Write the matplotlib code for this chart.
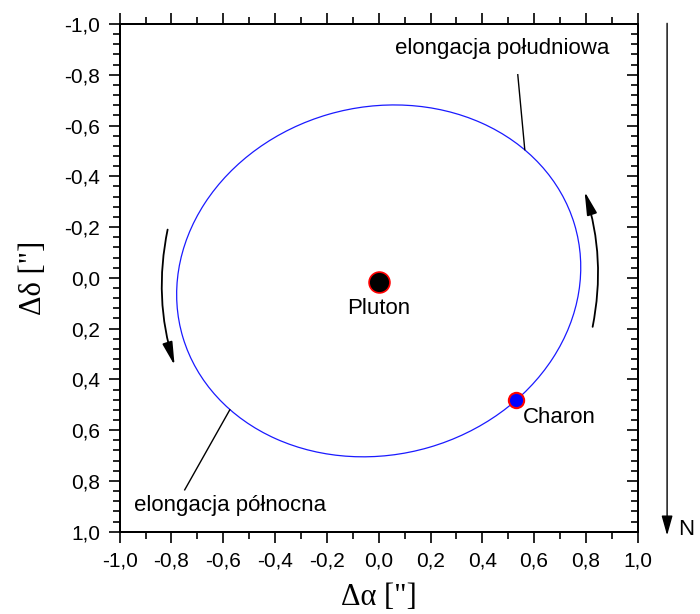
import matplotlib.pyplot as plt
from matplotlib.patches import Ellipse, FancyArrowPatch
from matplotlib.ticker import MultipleLocator

plt.rcParams['font.family'] = ['Liberation Sans', 'DejaVu Sans']

# ===================== DANE =====================
# orbita Charona (elipsa)
orbit_center = (0.0, 0.012)
orbit_width = 1.576
orbit_height = 1.368
orbit_angle = -16.5

pluton_xy = (0.0, 0.015)
charon_xy = (0.53, 0.48)

tick_values = [-1.0, -0.8, -0.6, -0.4, -0.2, 0.0, 0.2, 0.4, 0.6, 0.8, 1.0]
tick_labels = ['-1,0', '-0,8', '-0,6', '-0,4', '-0,2', '0,0', '0,2', '0,4', '0,6', '0,8', '1,0']

# kierunek ruchu (strzalki)
arrow_left = ((-0.815, -0.19), (-0.788, 0.345))
arrow_right = ((0.826, 0.193), (0.795, -0.34))

# linie opisow elongacji
south_line = ((0.537, -0.80), (0.564, -0.505))
north_line = ((-0.749, 0.835), (-0.575, 0.52))

# ===================== FIGURA =====================
fig = plt.figure(figsize=(7.0, 6.14), dpi=100)
ax = fig.add_axes([0.171, 0.134, 0.740, 0.827])

orbit = Ellipse(orbit_center, orbit_width, orbit_height, angle=orbit_angle,
                fill=False, edgecolor='#1a1aff', lw=0.9)
ax.add_patch(orbit)

ax.plot(*pluton_xy, 'o', ms=15, mfc='black', mec='red', mew=1.2, zorder=5)
ax.plot(*charon_xy, 'o', ms=11, mfc='blue', mec='red', mew=1.5, zorder=5)

ax.text(0.0, 0.12, 'Pluton', ha='center', va='center', fontsize=16)
ax.text(0.555, 0.55, 'Charon', ha='left', va='center', fontsize=16)
ax.text(0.478, -0.905, 'elongacja południowa', ha='center', va='center', fontsize=16)
ax.text(-0.575, 0.895, 'elongacja północna', ha='center', va='center', fontsize=16)

ax.plot([south_line[0][0], south_line[1][0]], [south_line[0][1], south_line[1][1]], color='black', lw=1.0)
ax.plot([north_line[0][0], north_line[1][0]], [north_line[0][1], north_line[1][1]], color='black', lw=1.0)

for start, end in (arrow_left, arrow_right):
    ax.add_patch(FancyArrowPatch(start, end, connectionstyle='arc3,rad=0.13',
                                 arrowstyle='-|>,head_length=1.0,head_width=0.22',
                                 mutation_scale=14, lw=1.3, color='black',
                                 shrinkA=0, shrinkB=0))

# strzalka N poza wykresem
fig.add_artist(FancyArrowPatch((0.953, 0.962), (0.953, 0.128), transform=fig.transFigure,
                               arrowstyle='-|>,head_length=1.0,head_width=0.28',
                               mutation_scale=12, lw=1.0, color='black',
                               shrinkA=0, shrinkB=0))
fig.text(0.980, 0.137, 'N', ha='center', va='center', fontsize=16)

# ===================== OSIE =====================
ax.set_xlim(-1.0, 1.0)
ax.set_ylim(1.0, -1.0)
ax.set_xticks(tick_values)
ax.set_xticklabels(tick_labels)
ax.set_yticks(tick_values)
ax.set_yticklabels(tick_labels)
ax.xaxis.set_minor_locator(MultipleLocator(0.1))
ax.yaxis.set_minor_locator(MultipleLocator(0.04))
ax.tick_params(axis='x', which='both', direction='out', top=True, labelsize=15, pad=6)
ax.tick_params(axis='y', which='both', direction='out', right=False, labelsize=15, pad=6)
ax.tick_params(which='major', length=8, width=1.2)
ax.tick_params(which='minor', length=5, width=1.2)
for sp in ax.spines.values():
    sp.set_linewidth(1.4)

ax_r = ax.twinx()
ax_r.set_ylim(1.0, -1.0)
ax_r.set_yticks(tick_values)
ax_r.yaxis.set_minor_locator(MultipleLocator(0.04))
ax_r.tick_params(axis='y', which='both', direction='in', labelright=False)
ax_r.tick_params(which='major', length=8, width=1.2)
ax_r.tick_params(which='minor', length=5, width=1.2)
for sp in ax_r.spines.values():
    sp.set_linewidth(1.4)

ax.set_xlabel('Δα ["]', family='Liberation Serif', fontsize=22, labelpad=9)
ax.set_ylabel('Δδ ["]', family='Liberation Serif', fontsize=22, labelpad=12)

fig.savefig('out.png', dpi=100)
